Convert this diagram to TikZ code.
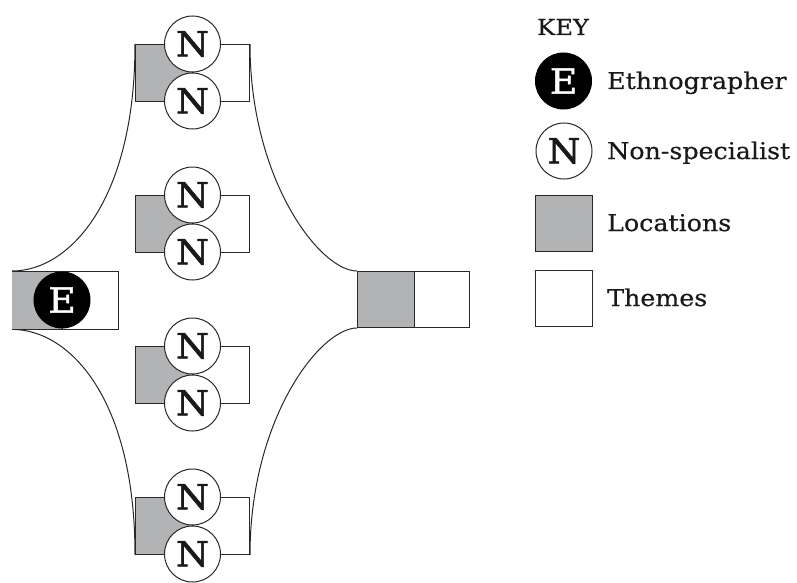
\documentclass[tikz,border=0pt]{standalone}
\usepackage{fontspec}
\setmainfont[FakeStretch=1.1,FakeBold=0.5]{DejaVu Serif}
\newfontfamily\letterfont[FakeStretch=1.1,FakeBold=1.4]{DejaVu Serif}
\usetikzlibrary{calc}
\definecolor{locgray}{RGB}{178,179,181}
\definecolor{linec}{RGB}{40,40,40}
\definecolor{inkc}{RGB}{25,25,25}
\begin{document}
\begin{tikzpicture}[x=1pt,y=-1pt,
  edge/.style={draw=linec, line width=1pt},
  locbox/.style={rectangle, fill=locgray, draw=linec, line width=1pt, inner sep=0pt},
  thmbox/.style={rectangle, fill=white, draw=linec, line width=1pt, inner sep=0pt},
  person/.style={circle, draw=linec, fill=white, line width=1pt, minimum size=56pt,
    inner sep=0pt, text=inkc, font=\letterfont\fontsize{34.5}{34.5}\selectfont},
  ethno/.style={person, fill=black, draw=black, text=white},
  keytext/.style={anchor=base west, inner sep=0pt, text=inkc, font=\fontsize{23}{23}\selectfont}
]
\useasboundingbox (0,0) rectangle (797,583);

% ethnographer's own box (locations | themes)
\node[rectangle, fill=locgray, inner sep=0pt, minimum width=50pt, minimum height=58pt,
  anchor=north west] (EL) at (12,271) {};
\node[thmbox, minimum width=56pt, minimum height=58pt, anchor=north west] (ET) at (62,271) {};

% shared box on the right
\node[locbox, minimum width=57pt, minimum height=56pt, anchor=north west] (RL) at (357,271) {};
\node[thmbox, minimum width=55pt, minimum height=56pt, anchor=north west] (RT) at (414,271) {};

% four pairs of non-specialists, each with a locations and a themes box
\foreach \i/\y in {1/44,2/195,3/346,4/497}{
  \node[locbox, minimum width=56.5pt, minimum height=57pt, anchor=north east] (L\i) at (192.5,\y) {};
  \node[thmbox, minimum width=56.5pt, minimum height=57pt, anchor=north west] (T\i) at (192.5,\y) {};
}

% outline curves joining the boxes
\draw[edge] (L1.north west) .. controls ($(L1.north west)+(0,156)$) and ($(EL.north west)+(58,0)$) .. (EL.north west);
\draw[edge] (L4.south west) .. controls ($(L4.south west)+(0,-156)$) and ($(EL.south west)+(58,0)$) .. (EL.south west);
\draw[edge] (T1.north east) .. controls ($(T1.north east)+(0,136)$) and ($(RL.north west)+(-37,0)$) .. (RL.north west);
\draw[edge] (T4.south east) .. controls ($(T4.south east)+(0,-136)$) and ($(RL.south west)+(-37,0)$) .. (RL.south west);

% redraw boxes above the curves
\node[rectangle, fill=locgray, inner sep=0pt, minimum width=50pt, minimum height=58pt,
  anchor=north west] (EL2) at (12,271) {};
\node[thmbox, minimum width=56pt, minimum height=58pt, anchor=north west] (ET2) at (62,271) {};
\draw[edge] (EL2.north west) -- (EL2.north east);
\draw[edge] (EL2.south west) -- (EL2.south east);
\node[locbox, minimum width=57pt, minimum height=56pt, anchor=north west] (RL2) at (357,271) {};
\node[thmbox, minimum width=55pt, minimum height=56pt, anchor=north west] (RT2) at (414,271) {};

\node[ethno] (E) at (62,300) {E};

\foreach \i/\y in {1/44,2/195,3/346,4/497}{
  \node[locbox, minimum width=56.5pt, minimum height=57pt, anchor=north east] (LL\i) at (192.5,\y) {};
  \node[thmbox, minimum width=56.5pt, minimum height=57pt, anchor=north west] (TT\i) at (192.5,\y) {};
  \node[person] (Na\i) at (192.5,\y) {N};
  \node[person] (Nb\i) at (192.5,\y+57) {N};
}

% key
\node[anchor=base west, inner sep=0pt, text=inkc, font=\fontsize{22}{22}\selectfont] (keyhead) at (537,35) {KEY};
\node[ethno] (kE) at (563.5,81) {E};
\node[keytext] (kEt) at (607,89) {Ethnographer};
\node[person] (kN) at (564,151) {N};
\node[keytext] (kNt) at (607,159) {Non-specialist};
\node[locbox, minimum width=57pt, minimum height=56pt, anchor=north west] (kL) at (535,195) {};
\node[keytext] (kLt) at (607,231) {Locations};
\node[thmbox, minimum width=57pt, minimum height=56pt, anchor=north west] (kT) at (535,270) {};
\node[keytext] (kTt) at (607,306) {Themes};
\end{tikzpicture}
\end{document}
